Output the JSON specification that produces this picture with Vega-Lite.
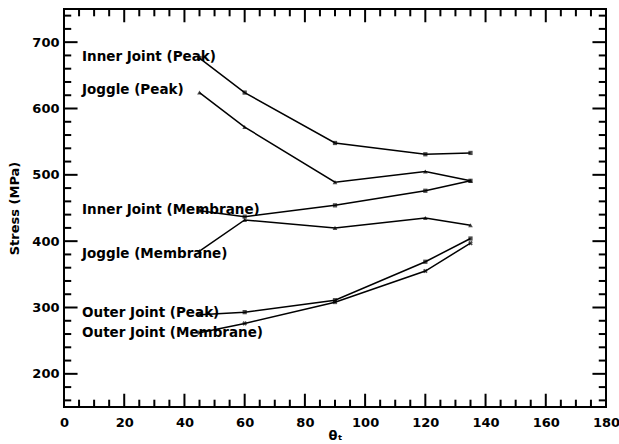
{
  "$schema": "https://vega.github.io/schema/vega-lite/v6.json",
  "width": 542,
  "height": 398,
  "autosize": {"type": "none"},
  "padding": {"left": 64, "top": 9, "right": 13, "bottom": 37},
  "background": "white",
  "config": {
    "view": {"stroke": "black", "strokeWidth": 2},
    "axis": {
      "grid": false,
      "domain": false,
      "labelFlush": false,
      "labelFont": "DejaVu Sans",
      "labelFontWeight": "bold",
      "labelFontSize": 13,
      "labelColor": "black",
      "titleFont": "DejaVu Sans",
      "titleFontWeight": "bold",
      "titleFontSize": 13,
      "titleColor": "black"
    }
  },
  "datasets": {
    "curves": [
      {"series": "Inner Joint (Peak)", "theta": 45, "stress": 676},
      {"series": "Inner Joint (Peak)", "theta": 60, "stress": 624},
      {"series": "Inner Joint (Peak)", "theta": 90, "stress": 548},
      {"series": "Inner Joint (Peak)", "theta": 120, "stress": 531},
      {"series": "Inner Joint (Peak)", "theta": 135, "stress": 533},
      {"series": "Joggle (Peak)", "theta": 45, "stress": 624},
      {"series": "Joggle (Peak)", "theta": 60, "stress": 572},
      {"series": "Joggle (Peak)", "theta": 90, "stress": 489},
      {"series": "Joggle (Peak)", "theta": 120, "stress": 505},
      {"series": "Joggle (Peak)", "theta": 135, "stress": 491},
      {"series": "Inner Joint (Membrane)", "theta": 45, "stress": 446},
      {"series": "Inner Joint (Membrane)", "theta": 60, "stress": 437},
      {"series": "Inner Joint (Membrane)", "theta": 90, "stress": 454},
      {"series": "Inner Joint (Membrane)", "theta": 120, "stress": 476},
      {"series": "Inner Joint (Membrane)", "theta": 135, "stress": 491},
      {"series": "Joggle (Membrane)", "theta": 45, "stress": 385},
      {"series": "Joggle (Membrane)", "theta": 60, "stress": 432},
      {"series": "Joggle (Membrane)", "theta": 90, "stress": 420},
      {"series": "Joggle (Membrane)", "theta": 120, "stress": 435},
      {"series": "Joggle (Membrane)", "theta": 135, "stress": 424},
      {"series": "Outer Joint (Peak)", "theta": 45, "stress": 289},
      {"series": "Outer Joint (Peak)", "theta": 60, "stress": 293},
      {"series": "Outer Joint (Peak)", "theta": 90, "stress": 311},
      {"series": "Outer Joint (Peak)", "theta": 120, "stress": 369},
      {"series": "Outer Joint (Peak)", "theta": 135, "stress": 404},
      {"series": "Outer Joint (Membrane)", "theta": 45, "stress": 262},
      {"series": "Outer Joint (Membrane)", "theta": 60, "stress": 276},
      {"series": "Outer Joint (Membrane)", "theta": 90, "stress": 308},
      {"series": "Outer Joint (Membrane)", "theta": 120, "stress": 355},
      {"series": "Outer Joint (Membrane)", "theta": 135, "stress": 397}
    ],
    "labels": [
      {"label": "Inner Joint (Peak)", "theta": 6, "stress": 678},
      {"label": "Joggle (Peak)", "theta": 6, "stress": 628},
      {"label": "Inner Joint (Membrane)", "theta": 6, "stress": 447},
      {"label": "Joggle (Membrane)", "theta": 6, "stress": 380},
      {"label": "Outer Joint (Peak)", "theta": 6, "stress": 291},
      {"label": "Outer Joint (Membrane)", "theta": 6, "stress": 261}
    ],
    "xmajor": [{"pos": 20}, {"pos": 40}, {"pos": 60}, {"pos": 80}, {"pos": 100}, {"pos": 120}, {"pos": 140}, {"pos": 160}],
    "xminor": [
      {"pos": 5}, {"pos": 10}, {"pos": 15}, {"pos": 25}, {"pos": 30}, {"pos": 35}, {"pos": 45}, {"pos": 50}, {"pos": 55},
      {"pos": 65}, {"pos": 70}, {"pos": 75}, {"pos": 85}, {"pos": 90}, {"pos": 95}, {"pos": 105}, {"pos": 110}, {"pos": 115},
      {"pos": 125}, {"pos": 130}, {"pos": 135}, {"pos": 145}, {"pos": 150}, {"pos": 155}, {"pos": 165}, {"pos": 170}, {"pos": 175}
    ],
    "ymajor": [{"pos": 200}, {"pos": 300}, {"pos": 400}, {"pos": 500}, {"pos": 600}, {"pos": 700}],
    "yminor": [
      {"pos": 160}, {"pos": 180}, {"pos": 220}, {"pos": 240}, {"pos": 260}, {"pos": 280}, {"pos": 320}, {"pos": 340},
      {"pos": 360}, {"pos": 380}, {"pos": 420}, {"pos": 440}, {"pos": 460}, {"pos": 480}, {"pos": 520}, {"pos": 540},
      {"pos": 560}, {"pos": 580}, {"pos": 620}, {"pos": 640}, {"pos": 660}, {"pos": 680}, {"pos": 720}, {"pos": 740}
    ]
  },
  "layer": [
    {
      "data": {"name": "xmajor"},
      "mark": {"type": "rule", "color": "black", "strokeWidth": 2},
      "encoding": {
        "x": {"field": "pos", "type": "quantitative", "scale": {"domain": [0, 180], "nice": false, "zero": false}, "axis": null},
        "y": {"datum": 150, "type": "quantitative", "scale": {"domain": [150, 750], "nice": false, "zero": false}, "axis": null},
        "y2": {"datum": 170}
      }
    },
    {
      "data": {"name": "xminor"},
      "mark": {"type": "rule", "color": "black", "strokeWidth": 2},
      "encoding": {
        "x": {"field": "pos", "type": "quantitative", "axis": null},
        "y": {"datum": 150, "type": "quantitative", "axis": null},
        "y2": {"datum": 161}
      }
    },
    {
      "data": {"name": "xmajor"},
      "mark": {"type": "rule", "color": "black", "strokeWidth": 2},
      "encoding": {
        "x": {"field": "pos", "type": "quantitative", "axis": null},
        "y": {"datum": 750, "type": "quantitative", "axis": null},
        "y2": {"datum": 730}
      }
    },
    {
      "data": {"name": "xminor"},
      "mark": {"type": "rule", "color": "black", "strokeWidth": 2},
      "encoding": {
        "x": {"field": "pos", "type": "quantitative", "axis": null},
        "y": {"datum": 750, "type": "quantitative", "axis": null},
        "y2": {"datum": 739}
      }
    },
    {
      "data": {"name": "ymajor"},
      "mark": {"type": "rule", "color": "black", "strokeWidth": 2},
      "encoding": {
        "y": {"field": "pos", "type": "quantitative", "axis": null},
        "x": {"datum": 0, "type": "quantitative", "axis": null},
        "x2": {"datum": 4.5}
      }
    },
    {
      "data": {"name": "yminor"},
      "mark": {"type": "rule", "color": "black", "strokeWidth": 2},
      "encoding": {
        "y": {"field": "pos", "type": "quantitative", "axis": null},
        "x": {"datum": 0, "type": "quantitative", "axis": null},
        "x2": {"datum": 2.4}
      }
    },
    {
      "data": {"name": "ymajor"},
      "mark": {"type": "rule", "color": "black", "strokeWidth": 2},
      "encoding": {
        "y": {"field": "pos", "type": "quantitative", "axis": null},
        "x": {"datum": 180, "type": "quantitative", "axis": null},
        "x2": {"datum": 175.5}
      }
    },
    {
      "data": {"name": "yminor"},
      "mark": {"type": "rule", "color": "black", "strokeWidth": 2},
      "encoding": {
        "y": {"field": "pos", "type": "quantitative", "axis": null},
        "x": {"datum": 180, "type": "quantitative", "axis": null},
        "x2": {"datum": 177.6}
      }
    },
    {
      "data": {"name": "curves"},
      "mark": {"type": "line", "color": "black", "strokeWidth": 1.5},
      "encoding": {
        "x": {"field": "theta", "type": "quantitative", "axis": null},
        "y": {"field": "stress", "type": "quantitative", "axis": null},
        "detail": {"field": "series"}
      }
    },
    {
      "data": {"name": "curves"},
      "transform": [{"filter": {"field": "series", "oneOf": ["Inner Joint (Peak)", "Inner Joint (Membrane)", "Outer Joint (Peak)"]}}],
      "mark": {"type": "point", "shape": "square", "filled": true, "color": "black", "size": 18},
      "encoding": {
        "x": {"field": "theta", "type": "quantitative", "axis": null},
        "y": {"field": "stress", "type": "quantitative", "axis": null}
      }
    },
    {
      "data": {"name": "curves"},
      "transform": [{"filter": {"field": "series", "oneOf": ["Joggle (Peak)", "Joggle (Membrane)"]}}],
      "mark": {"type": "point", "shape": "triangle-up", "filled": true, "color": "black", "size": 22},
      "encoding": {
        "x": {"field": "theta", "type": "quantitative", "axis": null},
        "y": {"field": "stress", "type": "quantitative", "axis": null}
      }
    },
    {
      "data": {"name": "curves"},
      "transform": [{"filter": {"field": "series", "equal": "Outer Joint (Membrane)"}}],
      "mark": {"type": "point", "shape": "cross", "angle": 45, "filled": true, "color": "black", "size": 22},
      "encoding": {
        "x": {"field": "theta", "type": "quantitative", "axis": null},
        "y": {"field": "stress", "type": "quantitative", "axis": null}
      }
    },
    {
      "data": {"name": "labels"},
      "mark": {"type": "text", "align": "left", "baseline": "middle", "font": "DejaVu Sans", "fontWeight": "bold", "fontSize": 13.5, "color": "black"},
      "encoding": {
        "x": {
          "field": "theta", "type": "quantitative",
          "axis": {"orient": "bottom", "values": [0,20,40,60,80,100,120,140,160,180], "ticks": false, "labelPadding": 9, "title": "θₜ", "titlePadding": 0}
        },
        "y": {
          "field": "stress", "type": "quantitative",
          "axis": {"orient": "left", "values": [200,300,400,500,600,700], "ticks": false, "labelPadding": 5, "title": "Stress (MPa)", "titlePadding": 10}
        },
        "text": {"field": "label"}
      }
    }
  ],
  "resolve": {"axis": {"x": "independent", "y": "independent"}}
}
